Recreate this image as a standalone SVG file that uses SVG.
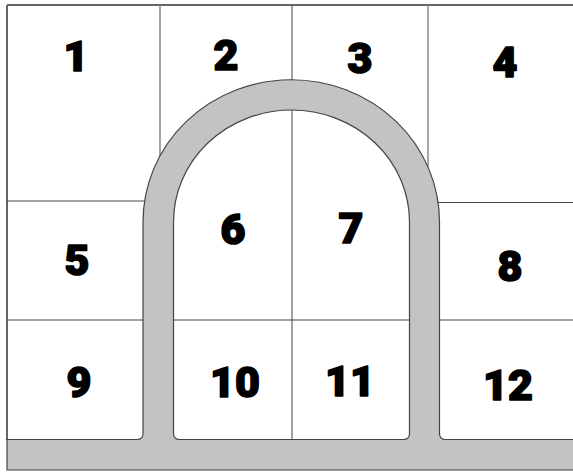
<svg xmlns="http://www.w3.org/2000/svg" width="573" height="472" viewBox="0 0 573 472">
<style>
.grid{stroke:#444;stroke-width:1;fill:none}
.light{stroke:#888;stroke-width:1.5;fill:none}
.border{stroke:#666;stroke-width:2;fill:none}
.lbl{font-family:Roboto,"Liberation Sans",sans-serif;font-weight:900;font-size:43px;fill:#000;stroke:#000;stroke-width:1.6;stroke-linejoin:round;text-anchor:middle}
.road{fill:#c3c3c3;stroke:#444;stroke-width:1.2;fill-rule:evenodd}
</style>
<rect width="573" height="472" fill="#fff"/>
<g id="connectors">
<line class="border" x1="7" y1="5" x2="573" y2="5"/>
<line class="border" x1="7" y1="5" x2="7" y2="440"/>
<line class="light" x1="160" y1="5" x2="160" y2="158"/>
<line class="grid" x1="292" y1="5" x2="292" y2="440"/>
<line class="light" x1="428" y1="5" x2="428" y2="168"/>
<line class="grid" x1="7" y1="201" x2="146" y2="201"/>
<line class="grid" x1="437" y1="202.5" x2="573" y2="202.5"/>
<line class="grid" x1="7" y1="320" x2="143" y2="320"/>
<line class="grid" x1="173" y1="320" x2="410" y2="320"/>
<line class="grid" x1="439" y1="320" x2="573" y2="320"/>
</g>
<g id="road">
<path class="road" d="M7,439.5 H137 Q143,439.5 143,433.5 V222 A148,142 0 0 1 439.5,222 V433.5 Q439.5,439.5 445.5,439.5 H575 V470 H7 Z M173.5,433.5 Q173.5,439.5 179.5,439.5 H403.5 Q409.5,439.5 409.5,433.5 V222 A118,112 0 0 0 173.5,222 Z"/>
</g>
<g id="n1"><text class="lbl" x="76" y="71">1</text></g>
<g id="n2"><text class="lbl" x="226" y="70">2</text></g>
<g id="n3"><text class="lbl" x="360" y="73">3</text></g>
<g id="n4"><text class="lbl" x="505" y="77">4</text></g>
<g id="n5"><text class="lbl" x="77" y="275">5</text></g>
<g id="n6"><text class="lbl" x="233" y="244">6</text></g>
<g id="n7"><text class="lbl" x="351" y="243">7</text></g>
<g id="n8"><text class="lbl" x="510" y="281">8</text></g>
<g id="n9"><text class="lbl" x="79" y="397">9</text></g>
<g id="n10"><text class="lbl" x="235" y="397">10</text></g>
<g id="n11"><text class="lbl" x="350" y="396">11</text></g>
<g id="n12"><text class="lbl" x="508" y="400">12</text></g>
</svg>
